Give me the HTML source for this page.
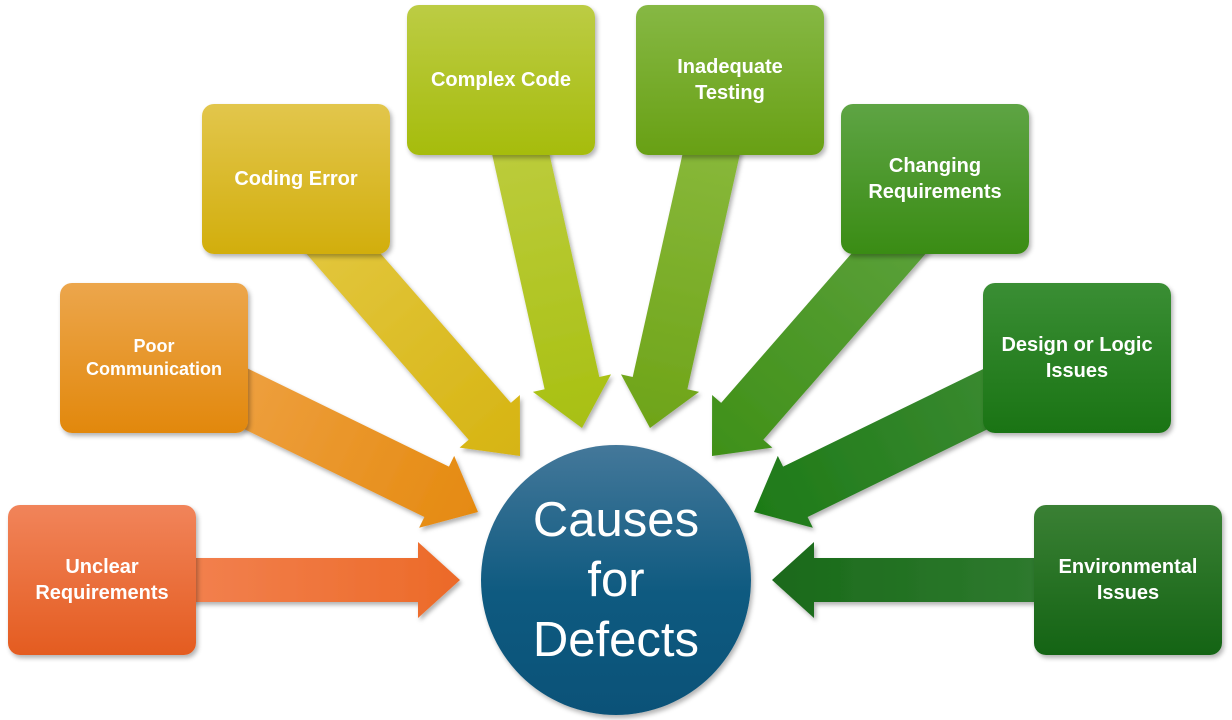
<!DOCTYPE html>
<html><head><meta charset="utf-8"><style>
body{margin:0;width:1232px;height:720px;background:#fff;overflow:hidden;position:relative;font-family:"Liberation Sans",sans-serif}
.b{position:absolute;width:188px;height:150px;border-radius:12px;display:flex;align-items:center;justify-content:center;text-align:center;color:#fff;font-weight:bold;font-size:20px;line-height:26px;box-shadow:2px 3px 5px rgba(0,0,0,.3)}
.c{position:absolute;left:481px;top:445px;width:270px;height:270px;border-radius:50%;background:linear-gradient(#44789a,#0e5a80 55%,#0b5278);color:#fff;font-size:49px;line-height:60px;text-align:center;display:flex;align-items:center;justify-content:center;box-shadow:2px 3px 5px rgba(0,0,0,.3)}
</style></head><body>
<svg width="1232" height="720" style="position:absolute;left:0;top:0">
<defs>
<linearGradient id="g1" x1="-270" x2="0" y1="0" y2="0" gradientUnits="userSpaceOnUse"><stop offset="0" stop-color="#f2804e"/><stop offset="1" stop-color="#ec6a28"/></linearGradient>
<linearGradient id="g2" x1="-280" x2="0" y1="0" y2="0" gradientUnits="userSpaceOnUse"><stop offset="0" stop-color="#eea040"/><stop offset="1" stop-color="#e58a10"/></linearGradient>
<linearGradient id="g3" x1="-290" x2="0" y1="0" y2="0" gradientUnits="userSpaceOnUse"><stop offset="0" stop-color="#e2c63c"/><stop offset="1" stop-color="#d6b412"/></linearGradient>
<linearGradient id="g4" x1="-290" x2="0" y1="0" y2="0" gradientUnits="userSpaceOnUse"><stop offset="0" stop-color="#bccc3c"/><stop offset="1" stop-color="#a8c012"/></linearGradient>
<linearGradient id="g5" x1="-290" x2="0" y1="0" y2="0" gradientUnits="userSpaceOnUse"><stop offset="0" stop-color="#88b83a"/><stop offset="1" stop-color="#6ea418"/></linearGradient>
<linearGradient id="g6" x1="-290" x2="0" y1="0" y2="0" gradientUnits="userSpaceOnUse"><stop offset="0" stop-color="#5aa038"/><stop offset="1" stop-color="#3f9018"/></linearGradient>
<linearGradient id="g7" x1="-280" x2="0" y1="0" y2="0" gradientUnits="userSpaceOnUse"><stop offset="0" stop-color="#3a8a30"/><stop offset="1" stop-color="#1e7a18"/></linearGradient>
<linearGradient id="g8" x1="-270" x2="0" y1="0" y2="0" gradientUnits="userSpaceOnUse"><stop offset="0" stop-color="#2e7a2e"/><stop offset="1" stop-color="#1a6a1a"/></linearGradient>
<polygon id="a" points="-300,-22 -42,-22 -42,-38 0,0 -42,38 -42,22 -300,22"/>
<polygon id="d" points="-320,-28 -46,-28 -46,-40 0,0 -46,40 -46,28 -320,28"/>
<filter id="s"><feDropShadow dx="2" dy="3" stdDeviation="2" flood-opacity=".3"/></filter>
</defs>
<g filter="url(#s)">
<use href="#a" fill="url(#g1)" transform="translate(460,580)"/>
<use href="#a" fill="url(#g8)" transform="translate(772,580) rotate(180)"/>
<use href="#d" fill="url(#g2)" transform="translate(478,512) rotate(26)"/>
<use href="#d" fill="url(#g3)" transform="translate(520,456) rotate(48.9)"/>
<use href="#d" fill="url(#g4)" transform="translate(582,428) rotate(77.4)"/>
<use href="#d" fill="url(#g5)" transform="translate(650,428) rotate(102.6)"/>
<use href="#d" fill="url(#g6)" transform="translate(712,456) rotate(131.1)"/>
<use href="#d" fill="url(#g7)" transform="translate(754,512) rotate(154)"/>
</g>
</svg>
<div class="b" style="left:8px;top:505px;background:linear-gradient(#f1845a,#e45c20)">Unclear<br>Requirements</div>
<div class="b" style="left:60px;top:283px;background:linear-gradient(#eca64c,#e2880c);font-size:18px;line-height:23px">Poor<br>Communication</div>
<div class="b" style="left:202px;top:104px;background:linear-gradient(#e2c64c,#d2ae0c)">Coding Error</div>
<div class="b" style="left:407px;top:5px;background:linear-gradient(#bccc44,#a6bc0c);align-items:flex-start;padding-top:62px;box-sizing:border-box">Complex Code</div>
<div class="b" style="left:636px;top:5px;background:linear-gradient(#86b844,#68a014);align-items:flex-start;padding-top:49px;box-sizing:border-box">Inadequate<br>Testing</div>
<div class="b" style="left:841px;top:104px;background:linear-gradient(#5ea444,#3a8c14)">Changing<br>Requirements</div>
<div class="b" style="left:983px;top:283px;background:linear-gradient(#3a8e34,#1a7414)">Design or Logic<br>Issues</div>
<div class="b" style="left:1034px;top:505px;background:linear-gradient(#3a8034,#146414)">Environmental<br>Issues</div>
<div class="c">Causes<br>for<br>Defects</div>
</body></html>
